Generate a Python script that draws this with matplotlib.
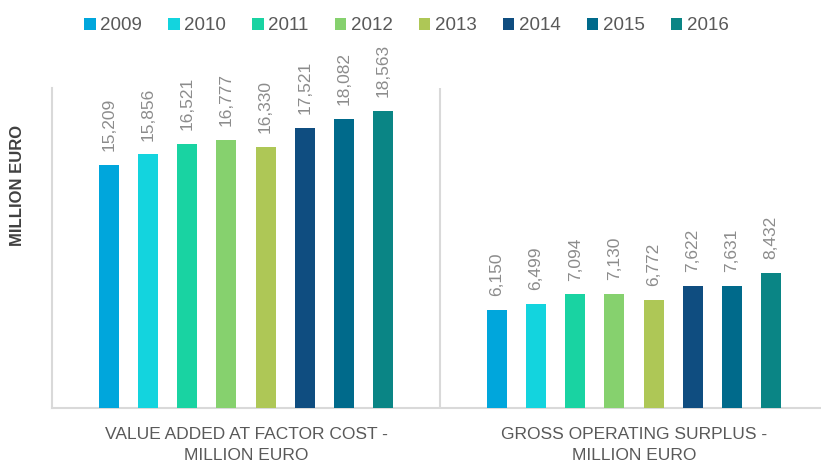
import matplotlib.pyplot as plt
import numpy as np

years = ['2009', '2010', '2011', '2012', '2013', '2014', '2015', '2016']
categories = ['VALUE ADDED AT FACTOR COST -\nMILLION EURO',
              'GROSS OPERATING SURPLUS -\nMILLION EURO']
value_added = [15209, 15856, 16521, 16777, 16330, 17521, 18082, 18563]
gross_surplus = [6150, 6499, 7094, 7130, 6772, 7622, 7631, 8432]
colors = ['#00A6DC', '#13D4DE', '#19D3A2', '#86D16E', '#AEC756',
          '#0F4D80', '#006A8B', '#0A8585']

plt.rcParams['font.family'] = ['Liberation Sans', 'DejaVu Sans']

fig = plt.figure(figsize=(8.21, 4.68), dpi=100)
ax = fig.add_axes([52 / 821, 60 / 468, 769 / 821, 320 / 468])

step = 0.101
width = 0.052
x = np.arange(len(categories))
for i, yr in enumerate(years):
    vals = [value_added[i], gross_surplus[i]]
    pos = x + (i - 3.5) * step
    ax.bar(pos, vals, width, color=colors[i], label=yr, zorder=3)
    for p, v in zip(pos, vals):
        ax.text(p, v + 850, '{:,}'.format(v), rotation=90, ha='center',
                va='bottom', fontsize=12.5, color='#8C8C8C')

ax.set_xlim(-0.5, -0.5 + 769 / 388)
ax.set_ylim(0, 20000)
ax.set_yticks([])
ax.set_xticks(x)
ax.set_xticklabels(categories, fontsize=12.5, color='#595959', linespacing=1.5)
ax.tick_params(axis='x', length=0, pad=14)
for s in ['top', 'right']:
    ax.spines[s].set_visible(False)
ax.spines['left'].set_color('#D9D9D9')
ax.spines['bottom'].set_color('#D9D9D9')
ax.spines['left'].set_linewidth(1.5)
ax.spines['bottom'].set_linewidth(1.5)
ax.axvline(0.5, color='#D9D9D9', lw=1.5, zorder=1)

fig.text(18 / 821, 1 - 185 / 468, 'MILLION EURO', rotation=90, ha='center',
         va='center', fontsize=12, fontweight='bold', color='#404040')

ax.legend(loc='center', bbox_to_anchor=(0.5 - 30 / 769, 1 + 62 / 320), ncol=8,
          frameon=False, fontsize=13.5, handlelength=0.6, handleheight=0.6,
          handletextpad=0.25, columnspacing=1.4, labelcolor='#595959')

fig.savefig('out.png', dpi=100)
